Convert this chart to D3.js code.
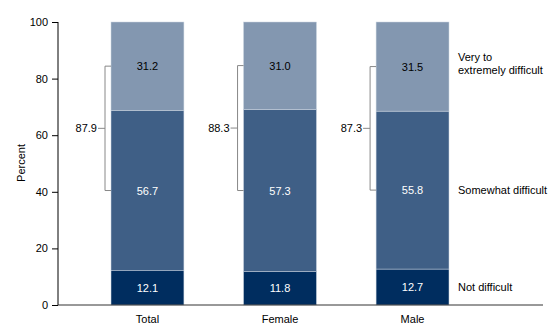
<!DOCTYPE html>
<html><head><meta charset="utf-8">
<script src="https://cdn.jsdelivr.net/npm/d3@7"></script>
<style>body{margin:0;background:#fff}text{font-family:"Liberation Sans",Arial,sans-serif}</style>
</head><body>
<svg id="c" width="560" height="336"></svg>
<script>
const categories = ["Total", "Female", "Male"];
const notDifficult = [12.1, 11.8, 12.7];
const somewhat = [56.7, 57.3, 55.8];
const veryExtreme = [31.2, 31.0, 31.5];
const combined = [87.9, 88.3, 87.3];
const yTicks = [0, 20, 40, 60, 80, 100];
const seriesNames = [["Not difficult"], ["Somewhat difficult"], ["Very to", "extremely difficult"]];

const svg = d3.select("#c");
const x = d3.scaleBand().domain(categories).range([58, 502]).paddingInner(0.45).paddingOuter(0.4);
const y = d3.scaleLinear().domain([0, 100]).range([305, 22]);
const colors = ["#002d5f", "#3f5f86", "#8397b0"];
const textColors = ["#fff", "#fff", "#000"];

const series = [notDifficult, somewhat, veryExtreme];
categories.forEach((c, i) => {
  let base = 0;
  series.forEach((s, k) => {
    const v = s[i];
    const y0 = base, y1 = k === 2 ? 100 : base + v;
    svg.append("rect").attr("x", x(c)).attr("width", x.bandwidth())
      .attr("y", y(y1)).attr("height", y(y0) - y(y1))
      .attr("fill", colors[k]).attr("stroke", "#c9d3df").attr("stroke-width", 0.5);
    svg.append("text").attr("x", x(c) + x.bandwidth() / 2).attr("y", y((y0 + base + v) / 2) + 4)
      .attr("text-anchor", "middle").attr("font-size", 11).attr("fill", textColors[k]).text(v.toFixed(1));
    base += v;
  });
  // bracket
  const lo = notDifficult[i] + somewhat[i] / 2;
  const hi = notDifficult[i] + somewhat[i] + veryExtreme[i] / 2;
  const bx = x(c) - 6;
  const g = svg.append("g").attr("fill", "none").attr("stroke", "#888").attr("stroke-width", 1);
  g.append("path").attr("d", `M${x(c)},${y(hi)}H${bx}V${y(lo)}H${x(c)}`);
  const mid = (lo + hi) / 2;
  g.append("line").attr("x1", bx - 7).attr("x2", bx).attr("y1", y(mid)).attr("y2", y(mid));
  svg.append("text").attr("x", bx - 8).attr("y", y(mid) + 4).attr("text-anchor", "end")
    .attr("font-size", 11).attr("fill", "#000").text(combined[i].toFixed(1));
});

// legend labels aligned to last bar
const last = categories.length - 1;
let b = 0;
series.forEach((s, k) => {
  const v = s[last];
  const mid = b + v / 2;
  const lines = seriesNames[k];
  const t = svg.append("text").attr("x", 458).attr("font-size", 11).attr("fill", "#000");
  lines.forEach((ln, j) => {
    t.append("tspan").attr("x", 458).attr("y", y(mid) + 4 + (j - (lines.length - 1) / 2) * 13 - (lines.length > 1 ? 3 : 0)).text(ln);
  });
  b += v;
});

// y axis
const ya = svg.append("g").attr("transform", "translate(58,0)")
  .call(d3.axisLeft(y).tickValues(yTicks).tickSize(6).tickPadding(4).tickFormat(d3.format("d")));
ya.selectAll("text").attr("font-size", 11).attr("fill", "#000").style("font-family", '"Liberation Sans",Arial,sans-serif');
ya.selectAll("line,path").attr("stroke", "#000");
ya.select(".domain").attr("d", "M0,22V305");

// x axis
const xa = svg.append("g").attr("transform", "translate(0,305)")
  .call(d3.axisBottom(x).tickSize(0).tickPadding(10));
xa.select(".domain").attr("d", "M58,0H543").attr("stroke", "#333");
xa.selectAll("text").attr("font-size", 11).attr("fill", "#000").style("font-family", '"Liberation Sans",Arial,sans-serif');

svg.append("text").attr("transform", "translate(25,163) rotate(-90)").attr("text-anchor", "middle")
  .attr("font-size", 11).attr("fill", "#000").text("Percent");
</script>
</body></html>
